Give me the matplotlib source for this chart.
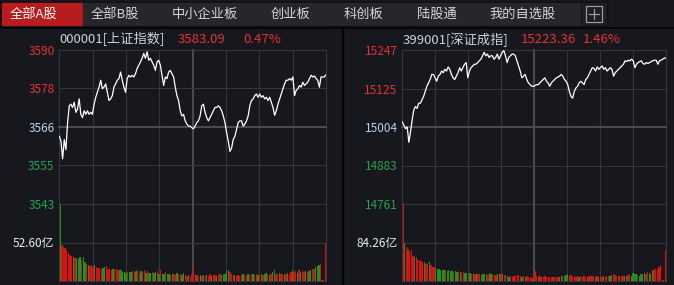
import matplotlib.pyplot as plt
import numpy as np
from matplotlib.patches import Rectangle

plt.rcParams['font.family'] = ['Noto Sans CJK SC', 'DejaVu Sans']

W, H = 674, 285
BG = "#16181d"
GRID = "#35363a"
GRID_MID = "#4a4b50"
RED = "#e8303a"
GREEN = "#1fa550"
PREV_COL = "#b9d3ec"
BAR_RED = "#dd0f0f"
BAR_GREEN = "#16961a"

tabs = ["全部A股", "全部B股", "中小企业板", "创业板", "科创板", "陆股通", "我的自选股"]

# 上证指数
sh_code = "000001[上证指数]"
sh_last = "3583.09"
sh_pct = "0.47%"
sh_prev = 3566.33
sh_range = 23.5
sh_ticks = ["3590", "3578", "3566", "3555", "3543"]
sh_vol_label = "52.60亿"
sh_vol_max = 105.2
sh_price = [
    3563.5, 3562.0, 3556.6, 3562.5, 3559.4, 3567.7, 3572.8, 3573.3, 3572.3, 3573.9,
    3570.8, 3571.8, 3574.9, 3570.2, 3569.2, 3571.3, 3570.2, 3571.3, 3570.2, 3570.8,
    3570.2, 3573.3, 3575.4, 3576.9, 3578.5, 3580.6, 3578.0, 3578.5, 3579.5, 3576.9,
    3574.4, 3574.9, 3575.9, 3578.5, 3579.5, 3580.6, 3581.1, 3583.1, 3580.6, 3578.5,
    3576.9, 3581.1, 3582.1, 3581.6, 3582.1, 3581.6, 3582.6, 3584.2, 3585.2, 3586.2,
    3587.3, 3588.8, 3587.3, 3589.3, 3586.7, 3587.3, 3586.2, 3585.2, 3583.6, 3586.2,
    3586.7, 3585.2, 3582.1, 3579.0, 3581.6, 3581.1, 3583.1, 3583.6, 3582.6, 3581.6,
    3578.5, 3575.9, 3574.4, 3571.3, 3569.7, 3570.2, 3568.2, 3567.2, 3566.6, 3566.6,
    3566.1, 3565.8, 3566.6, 3567.7, 3568.2, 3569.7, 3572.8, 3573.3, 3570.8, 3569.2,
    3568.2, 3569.2, 3570.2, 3571.3, 3572.3, 3572.3, 3572.8, 3572.3, 3571.3, 3569.7,
    3567.7, 3564.6, 3562.0, 3558.9, 3559.9, 3562.5, 3563.5, 3565.6, 3567.7, 3568.2,
    3568.2, 3566.6, 3567.2, 3568.2, 3569.7, 3572.8, 3574.4, 3574.9, 3575.9, 3576.4,
    3575.4, 3576.4, 3575.4, 3575.9, 3574.9, 3575.4, 3574.4, 3575.4, 3573.9, 3572.3,
    3569.9, 3571.3, 3573.3, 3574.9, 3576.4, 3578.0, 3579.5, 3580.6, 3580.6, 3581.1,
    3580.6, 3581.6, 3575.9, 3577.5, 3578.0, 3579.0, 3578.5, 3580.0, 3579.0, 3579.5,
    3580.0, 3581.1, 3582.1, 3581.6, 3581.9, 3581.1, 3580.6, 3578.5, 3581.6, 3581.6,
    3581.6, 3582.3,
]
sh_vol = [
    105.3, 49.2, 46.9, 44.6, 42.3, 37.7, 35.4, 34.0, 33.1, 30.8,
    30.8, 29.4, 33.1, 28.5, 32.2, 26.2, 23.9, 21.6, 20.2, 21.6,
    19.3, 21.6, 19.3, 18.4, 18.4, 17.0, 18.4, 19.3, 20.2, 17.0,
    17.0, 15.6, 17.0, 17.0, 17.0, 15.6, 14.7, 15.6, 12.4, 12.4,
    11.0, 12.4, 12.4, 12.0, 13.8, 12.4, 13.8, 15.6, 11.0, 13.8,
    12.4, 15.6, 11.0, 13.8, 11.0, 11.0, 12.4, 11.0, 12.4, 13.8,
    10.1, 14.7, 9.2, 10.1, 12.4, 9.2, 10.1, 7.8, 10.1, 9.2,
    7.8, 11.0, 10.1, 9.2, 7.8, 11.0, 7.8, 6.4, 7.8, 5.5,
    9.2, 21.6, 7.8, 7.8, 6.4, 7.8, 6.4, 7.8, 6.4, 7.8,
    6.4, 9.2, 6.4, 7.8, 7.8, 6.4, 7.8, 9.2, 7.8, 9.2,
    10.1, 13.8, 15.6, 12.4, 9.2, 7.8, 7.8, 6.4, 7.8, 6.4,
    7.8, 9.2, 7.8, 6.4, 9.2, 7.8, 10.1, 9.2, 7.8, 9.2,
    7.8, 7.8, 9.2, 7.8, 10.1, 11.0, 9.2, 7.8, 9.2, 12.4,
    15.6, 10.1, 9.2, 11.0, 9.2, 9.2, 10.1, 9.2, 11.0, 9.2,
    12.4, 15.6, 12.4, 13.8, 11.0, 14.7, 12.4, 13.8, 12.4, 13.8,
    12.4, 13.8, 14.7, 17.0, 17.0, 19.3, 20.2, 21.6, 23.9, 0.9,
    0.9, 50.6,
]
sh_updown = ("grrrrrrrgr gggrggrgrr rgrrrrggrr rrgrrrgggg grggrrgrrg rrgrggrggr "
             "grggrggrgr rgrrggrrgr rrgrrgrgrg rrgrrgrrgg gggrrrgrrr rgrrgrrgrr "
             "grgrggrgrg grrgrrgrgr rgrrgrgrrg rggrrgggrr rr").replace(" ", "")

# 深证成指
sz_code = "399001[深证成指]"
sz_last = "15223.36"
sz_pct = "1.46%"
sz_prev = 15004.3
sz_range = 243.0
sz_ticks = ["15247", "15125", "15004", "14883", "14761"]
sz_vol_label = "84.26亿"
sz_vol_max = 168.52
sz_price = [
    15020.4, 15009.6, 14998.9, 15004.3, 14956.1, 14988.2, 15025.7, 15057.8, 15068.5, 15063.2,
    15079.2, 15079.2, 15089.9, 15100.6, 15116.7, 15132.8, 15143.5, 15154.2, 15170.2, 15170.2,
    15159.5, 15148.8, 15164.9, 15170.2, 15180.9, 15175.6, 15186.3, 15180.9, 15193.8, 15186.3,
    15170.2, 15159.5, 15154.2, 15164.9, 15175.6, 15191.6, 15180.9, 15191.6, 15202.3, 15207.7,
    15159.5, 15180.9, 15191.6, 15197.0, 15202.3, 15202.3, 15207.7, 15213.0, 15218.4, 15229.1,
    15239.8, 15229.1, 15234.4, 15223.7, 15229.1, 15229.1, 15218.4, 15223.7, 15234.4, 15218.4,
    15229.1, 15239.8, 15245.2, 15229.1, 15207.7, 15223.7, 15229.1, 15234.4, 15234.4, 15229.1,
    15213.0, 15197.0, 15180.9, 15159.5, 15164.9, 15170.2, 15154.2, 15143.5, 15138.1, 15132.8,
    15132.8, 15134.9, 15138.1, 15138.1, 15143.5, 15148.8, 15154.2, 15159.5, 15148.8, 15143.5,
    15132.8, 15143.5, 15148.8, 15154.2, 15159.5, 15161.7, 15164.9, 15170.2, 15164.9, 15154.2,
    15148.8, 15138.1, 15116.7, 15100.6, 15095.3, 15116.7, 15127.4, 15132.8, 15143.5, 15148.8,
    15143.5, 15138.1, 15154.2, 15159.5, 15170.2, 15180.9, 15191.6, 15189.5, 15180.9, 15193.8,
    15186.3, 15191.6, 15197.0, 15186.3, 15191.6, 15180.9, 15186.3, 15191.6, 15186.3, 15164.9,
    15175.6, 15180.9, 15186.3, 15191.6, 15197.0, 15202.3, 15213.0, 15210.9, 15215.2, 15213.0,
    15218.4, 15213.0, 15191.6, 15202.3, 15207.7, 15210.9, 15213.0, 15204.5, 15202.3, 15207.7,
    15204.5, 15207.7, 15210.9, 15213.0, 15215.2, 15215.2, 15202.3, 15213.0, 15215.2, 15218.4,
    15221.6, 15221.6,
]
sz_vol = [
    168.5, 82.4, 73.6, 69.2, 64.0, 67.7, 54.4, 51.5, 53.0, 45.6,
    45.6, 44.1, 41.9, 41.9, 38.3, 39.7, 41.9, 34.6, 30.9, 30.9,
    29.4, 27.2, 27.2, 25.0, 25.0, 23.5, 25.0, 22.1, 23.5, 22.1,
    22.1, 19.9, 22.1, 19.9, 22.1, 19.9, 17.7, 19.9, 17.7, 17.7,
    14.7, 17.7, 16.2, 14.7, 16.2, 14.7, 16.2, 14.7, 12.5, 14.7,
    16.2, 14.7, 12.5, 17.7, 14.7, 16.2, 12.5, 14.0, 14.7, 16.2,
    14.7, 16.2, 14.0, 12.5, 10.3, 8.8, 10.3, 8.8, 10.3, 11.8,
    12.5, 13.2, 11.8, 8.8, 10.3, 8.8, 10.3, 8.8, 8.8, 7.4,
    2.9, 22.1, 10.3, 8.8, 10.3, 8.8, 8.8, 10.3, 8.8, 8.8,
    8.8, 8.8, 8.8, 8.8, 8.8, 8.8, 8.8, 10.3, 11.8, 10.3,
    12.5, 14.7, 10.3, 12.5, 8.8, 10.3, 8.8, 10.3, 8.8, 10.3,
    8.8, 10.3, 8.8, 8.8, 10.3, 11.8, 10.3, 10.3, 8.8, 10.3,
    8.8, 11.8, 8.8, 10.3, 8.8, 10.3, 11.8, 10.3, 12.5, 14.7,
    12.5, 10.3, 11.8, 10.3, 10.3, 11.8, 10.3, 11.8, 12.5, 14.7,
    11.8, 17.7, 14.7, 16.2, 13.2, 11.8, 14.7, 16.2, 17.7, 16.2,
    19.9, 17.7, 16.2, 23.5, 25.0, 25.8, 27.2, 30.9, 34.6, 2.9,
    1.5, 67.7,
]
sz_updown = ("rgrrrrrgrr rrrgrrgrrr ggggggrggg grggrgrrgg rgrgrgrrgg grrggrrrgg "
             "rgrrggrrrr rrrgrgrrrr grrgrrrrrr rrrrrrggrg ggrrrrrrgr rrrgrrrrgr "
             "grrgrrrggr rrrgrrggrr ggggrggggr rgggrrrrrr rr").replace(" ", "")


def px(x0, y0, x1, y1):
    return [x0 / W, 1 - y1 / H, (x1 - x0) / W, (y1 - y0) / H]


def draw_grid(ax, xs, ys, xmid, ymid):
    for x in xs:
        mid = x == xmid
        ax.axvline(x, color=GRID_MID if mid else GRID, lw=1.5 if mid else 0.8, clip_on=False, zorder=1)
    for y in ys:
        mid = ymid is not None and abs(y - ymid) < 1e-6
        ax.axhline(y, color=GRID_MID if mid else GRID, lw=1.5 if mid else 0.8, clip_on=False, zorder=1)


def draw_panel(fig, x0, x1, code, last, pct, prev, rng, ticks, price, vol, vmax, vlabel, updown, tx):
    axp = fig.add_axes(px(x0, 50, x1, 204))
    axv = fig.add_axes(px(x0, 204, x1, 281))
    minutes = np.arange(0, 241, 30)
    for ax in (axp, axv):
        ax.set_facecolor("none")
        ax.set_xlim(0, 240)
        for s in ax.spines.values():
            s.set_visible(False)
        ax.set_xticks([])
        ax.tick_params(axis="y", length=0, pad=3.5, labelsize=8.5)

    lo, hi = prev - rng, prev + rng
    axp.set_ylim(lo, hi)
    levels = np.linspace(hi, lo, 5)
    axp.set_yticks(levels, ticks)
    cols = [RED, RED, PREV_COL, GREEN, GREEN]
    for lab, c in zip(axp.get_yticklabels(), cols):
        lab.set_color(c)
    draw_grid(axp, minutes, levels, 120, prev)
    t = np.linspace(0, 240, len(price))
    axp.plot(t, price, color="white", lw=0.9, zorder=3)

    axv.set_ylim(0, vmax)
    axv.set_yticks([vmax / 2], [vlabel])
    axv.get_yticklabels()[0].set_color("#e6ecf2")
    draw_grid(axv, minutes, [0, vmax / 2], 120, None)
    tb = np.linspace(0.8, 239.5, len(vol))
    colors = [BAR_RED if c == "r" else BAR_GREEN for c in updown]
    axv.bar(tb, vol, width=1.2, color=colors, lw=0, zorder=3, antialiased=False)

    fig.text(tx[0] / W, 1 - 39.5 / H, code, color="#c9d3de", fontsize=9.5, va="center")
    fig.text(tx[1] / W, 1 - 39.5 / H, last, color=RED, fontsize=9.5, va="center")
    fig.text(tx[2] / W, 1 - 39.5 / H, pct, color=RED, fontsize=9.5, va="center")


fig = plt.figure(figsize=(W / 100, H / 100), dpi=100)
fig.patch.set_facecolor(BG)

bg = fig.add_axes([0, 0, 1, 1], zorder=-1)
bg.set_xlim(0, W)
bg.set_ylim(H, 0)
bg.axis("off")

# tab bar
bg.add_patch(Rectangle((0, 1.5), 607, 25, color="#0c0d10"))
edges = [2, 83, 164, 263, 336, 409, 482, 581]
for i, name in enumerate(tabs):
    a, b = edges[i], edges[i + 1] - 1
    bg.add_patch(Rectangle((a, 3), b - a, 21.5, color="#b81c1c" if i == 0 else "#26272c"))
    bg.text(a + 7.5, 14, name, color="white" if i == 0 else "#d4d6da", fontsize=9.5, va="center")
bg.add_patch(Rectangle((582, 3), 23.5, 21.5, color="#1e1f23"))
bg.add_patch(Rectangle((585.5, 5.5), 16.5, 16.5, fill=False, ec="#9c9c9c", lw=0.9))
bg.plot([588.5, 599], [13.75, 13.75], color="#9c9c9c", lw=0.9)
bg.plot([593.75, 593.75], [8.5, 19], color="#9c9c9c", lw=0.9)
# dividers
bg.plot([0, W], [27.5, 27.5], color="#050607", lw=1.2)
bg.plot([343, 343], [27.5, H], color="#050607", lw=1.6)

draw_panel(fig, 59.3, 326, sh_code, sh_last, sh_pct, sh_prev, sh_range, sh_ticks,
           sh_price, sh_vol, sh_vol_max, sh_vol_label, sh_updown, (59.5, 177.5, 243))
draw_panel(fig, 402.3, 666, sz_code, sz_last, sz_pct, sz_prev, sz_range, sz_ticks,
           sz_price, sz_vol, sz_vol_max, sz_vol_label, sz_updown, (403, 520.5, 583))

fig.savefig("out.png", dpi=100, facecolor=fig.get_facecolor())
